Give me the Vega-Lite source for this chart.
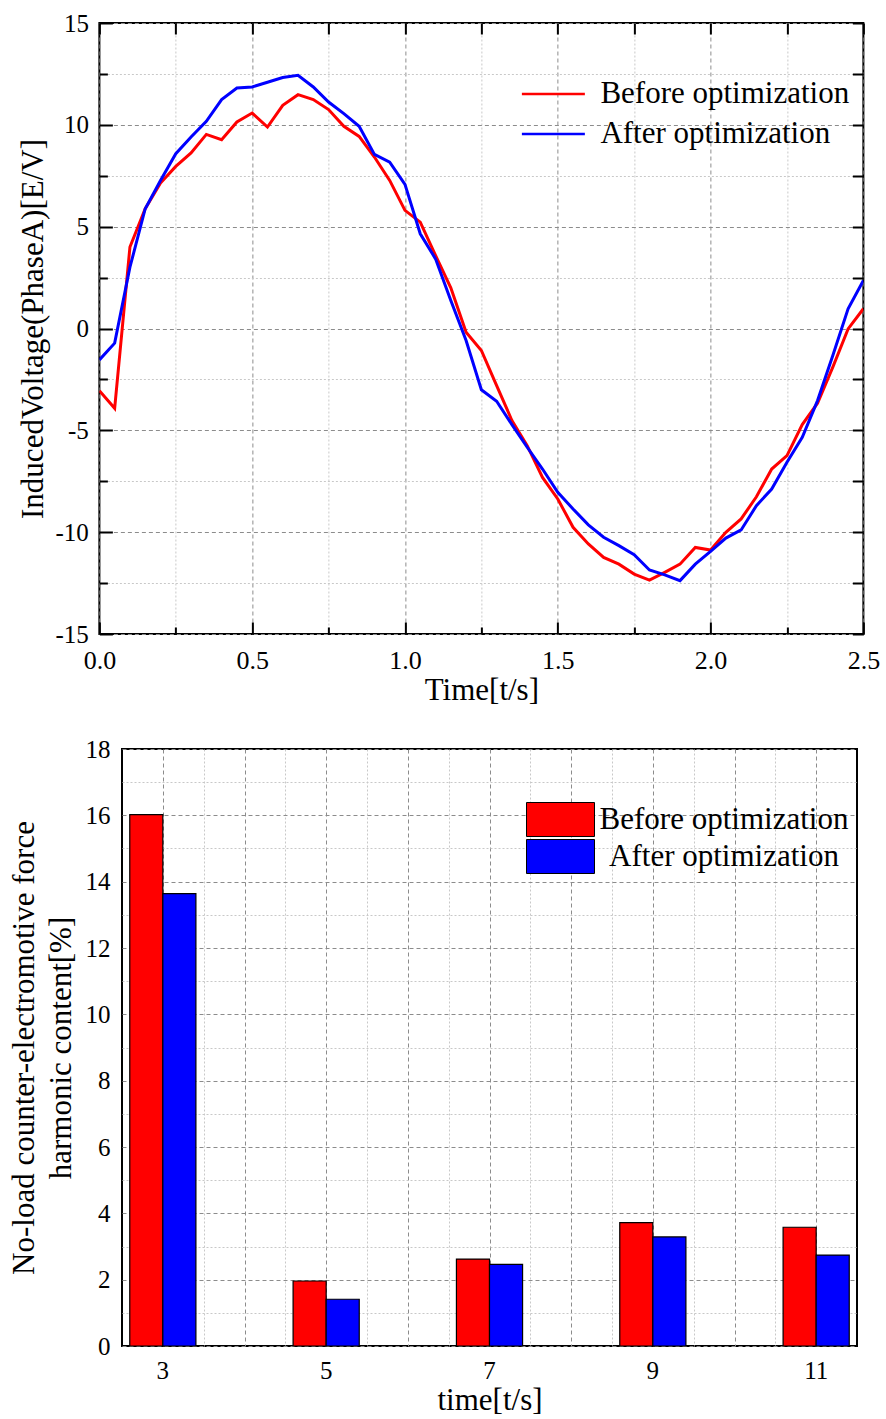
{
  "$schema": "https://vega.github.io/schema/vega-lite/v6.json",
  "padding": {"left": 7, "top": 10, "right": 5, "bottom": 5},
  "background": "white",
  "spacing": 30,
  "center": true,
  "resolve": {"scale": {"color": "independent"}, "legend": {"color": "independent"}},
  "config": {
    "view": {"stroke": "black", "strokeWidth": 2},
    "axis": {"labelFont": "Liberation Serif", "titleFont": "Liberation Serif", "labelColor": "black", "titleColor": "black", "titleFontWeight": "normal", "domain": false, "tickColor": "black", "tickWidth": 2},
    "legend": {"labelFont": "Liberation Serif", "labelColor": "black"}
  },
  "vconcat": [
    {
      "width": 764,
      "height": 611,
      "data": {"values": [
        {"t": 0, "Before optimization": -3.05, "After optimization": -1.54},
        {"t": 0.05, "Before optimization": -3.92, "After optimization": -0.72},
        {"t": 0.1, "Before optimization": 4.0, "After optimization": 3.01},
        {"t": 0.15, "Before optimization": 5.88, "After optimization": 5.88},
        {"t": 0.2, "Before optimization": 7.14, "After optimization": 7.27},
        {"t": 0.25, "Before optimization": 7.96, "After optimization": 8.58},
        {"t": 0.3, "Before optimization": 8.62, "After optimization": 9.4},
        {"t": 0.35, "Before optimization": 9.53, "After optimization": 10.17},
        {"t": 0.4, "Before optimization": 9.27, "After optimization": 11.24},
        {"t": 0.45, "Before optimization": 10.14, "After optimization": 11.81},
        {"t": 0.5, "Before optimization": 10.58, "After optimization": 11.86},
        {"t": 0.55, "Before optimization": 9.89, "After optimization": 12.09},
        {"t": 0.6, "Before optimization": 10.96, "After optimization": 12.32},
        {"t": 0.65, "Before optimization": 11.48, "After optimization": 12.43},
        {"t": 0.7, "Before optimization": 11.24, "After optimization": 11.86},
        {"t": 0.75, "Before optimization": 10.75, "After optimization": 11.12},
        {"t": 0.8, "Before optimization": 9.93, "After optimization": 10.55},
        {"t": 0.85, "Before optimization": 9.43, "After optimization": 9.93},
        {"t": 0.9, "Before optimization": 8.42, "After optimization": 8.55},
        {"t": 0.95, "Before optimization": 7.27, "After optimization": 8.17},
        {"t": 1.0, "Before optimization": 5.8, "After optimization": 7.08},
        {"t": 1.05, "Before optimization": 5.22, "After optimization": 4.65},
        {"t": 1.1, "Before optimization": 3.59, "After optimization": 3.42},
        {"t": 1.15, "Before optimization": 2.0, "After optimization": 1.38},
        {"t": 1.2, "Before optimization": -0.18, "After optimization": -0.59},
        {"t": 1.25, "Before optimization": -1.08, "After optimization": -3.01},
        {"t": 1.3, "Before optimization": -2.8, "After optimization": -3.57},
        {"t": 1.35, "Before optimization": -4.52, "After optimization": -4.72},
        {"t": 1.4, "Before optimization": -5.75, "After optimization": -5.83},
        {"t": 1.45, "Before optimization": -7.31, "After optimization": -6.9},
        {"t": 1.5, "Before optimization": -8.37, "After optimization": -8.04},
        {"t": 1.55, "Before optimization": -9.76, "After optimization": -8.86},
        {"t": 1.6, "Before optimization": -10.58, "After optimization": -9.64},
        {"t": 1.65, "Before optimization": -11.24, "After optimization": -10.25},
        {"t": 1.7, "Before optimization": -11.57, "After optimization": -10.66},
        {"t": 1.75, "Before optimization": -12.06, "After optimization": -11.11},
        {"t": 1.8, "Before optimization": -12.35, "After optimization": -11.86},
        {"t": 1.85, "Before optimization": -11.97, "After optimization": -12.1},
        {"t": 1.9, "Before optimization": -11.57, "After optimization": -12.38},
        {"t": 1.95, "Before optimization": -10.75, "After optimization": -11.57},
        {"t": 2.0, "Before optimization": -10.88, "After optimization": -10.94},
        {"t": 2.05, "Before optimization": -10.01, "After optimization": -10.29},
        {"t": 2.1, "Before optimization": -9.35, "After optimization": -9.89},
        {"t": 2.15, "Before optimization": -8.26, "After optimization": -8.7},
        {"t": 2.2, "Before optimization": -6.9, "After optimization": -7.88},
        {"t": 2.25, "Before optimization": -6.24, "After optimization": -6.57},
        {"t": 2.3, "Before optimization": -4.72, "After optimization": -5.34},
        {"t": 2.35, "Before optimization": -3.67, "After optimization": -3.54},
        {"t": 2.4, "Before optimization": -1.9, "After optimization": -1.33},
        {"t": 2.45, "Before optimization": -0.02, "After optimization": 0.97},
        {"t": 2.5, "Before optimization": 0.97, "After optimization": 2.36}
      ]},
      "transform": [{"fold": ["Before optimization", "After optimization"], "as": ["series", "v"]}],
      "layer": [
        {
          "mark": {"type": "line", "strokeWidth": 3, "clip": true},
          "encoding": {
            "x": {"field": "t", "type": "quantitative",
              "scale": {"domain": [0, 2.5], "nice": false, "zero": false},
              "axis": {"orient": "bottom", "title": "Time[t/s]", "titleFontSize": 31, "titlePadding": 2,
                "values": [0, 0.25, 0.5, 0.75, 1, 1.25, 1.5, 1.75, 2, 2.25, 2.5],
                "labelExpr": "datum.value % 0.5 === 0 ? format(datum.value, '.1f') : ''",
                "labelFontSize": 26, "labelPadding": 25, "labelFlush": false,
                "tickSize": {"condition": {"test": "datum.value % 0.5 === 0", "value": -12}, "value": -7},
                "grid": true,
                "gridColor": {"condition": {"test": "datum.value % 0.5 === 0", "value": "#8c8c8c"}, "value": "#c8c8c8"},
                "gridDash": {"condition": {"test": "datum.value % 0.5 === 0", "value": [4, 3]}, "value": [2, 2]},
                "gridWidth": 1}},
            "y": {"field": "v", "type": "quantitative",
              "scale": {"domain": [-15, 15], "nice": false, "zero": false},
              "axis": {"orient": "left", "title": "InducedVoltage(PhaseA)[E/V]", "titleFontSize": 31, "titlePadding": 6,
                "values": [-15, -12.5, -10, -7.5, -5, -2.5, 0, 2.5, 5, 7.5, 10, 12.5, 15],
                "labelExpr": "datum.value % 5 === 0 ? '' + datum.value : ''",
                "labelFontSize": 25, "labelPadding": 24, "labelFlush": false,
                "tickSize": {"condition": {"test": "datum.value % 5 === 0", "value": -13}, "value": -8},
                "grid": true,
                "gridColor": {"condition": {"test": "datum.value % 5 === 0", "value": "#8c8c8c"}, "value": "#c8c8c8"},
                "gridDash": {"condition": {"test": "datum.value % 5 === 0", "value": [4, 3]}, "value": [2, 2]},
                "gridWidth": 1}},
            "color": {"field": "series", "type": "nominal",
              "scale": {"domain": ["Before optimization", "After optimization"], "range": ["#ff0000", "#0000ff"]},
              "legend": {"orient": "none", "legendX": 437, "legendY": 54, "title": null, "padding": 0,
                "symbolType": "M-2,0H2", "symbolSize": 992, "symbolStrokeWidth": 2.5,
                "labelFontSize": 31, "labelOffset": 30, "rowPadding": 8, "labelLimit": 400}}
          }
        },
        {
          "mark": {"type": "point", "opacity": 0},
          "encoding": {
            "x": {"field": "t", "type": "quantitative",
              "axis": {"orient": "top", "title": null, "labels": false, "grid": false, "tickSize": -11,
                "values": [0, 0.25, 0.5, 0.75, 1, 1.25, 1.5, 1.75, 2, 2.25, 2.5]}},
            "y": {"field": "v", "type": "quantitative",
              "axis": {"orient": "right", "title": null, "labels": false, "grid": false, "tickSize": -11,
                "values": [-15, -12.5, -10, -7.5, -5, -2.5, 0, 2.5, 5, 7.5, 10, 12.5, 15]}}
          }
        }
      ],
      "resolve": {"axis": {"x": "independent", "y": "independent"}}
    },
    {
      "width": 735,
      "height": 597,
      "data": {"values": [
        {"h": 3, "series": "Before optimization", "v": 16.02},
        {"h": 3, "series": "After optimization", "v": 13.64},
        {"h": 5, "series": "Before optimization", "v": 1.96},
        {"h": 5, "series": "After optimization", "v": 1.41},
        {"h": 7, "series": "Before optimization", "v": 2.62},
        {"h": 7, "series": "After optimization", "v": 2.46},
        {"h": 9, "series": "Before optimization", "v": 3.72},
        {"h": 9, "series": "After optimization", "v": 3.29},
        {"h": 11, "series": "Before optimization", "v": 3.58},
        {"h": 11, "series": "After optimization", "v": 2.74}
      ]},
      "layer": [
        {
          "mark": {"type": "point", "opacity": 0},
          "encoding": {
            "x": {"field": "h", "type": "quantitative",
              "scale": {"domain": [2.5, 11.5], "nice": false, "zero": false},
              "axis": {"orient": "top", "title": null, "labels": false, "ticks": false,
                "values": [3, 3.5, 4, 4.5, 5, 5.5, 6, 6.5, 7, 7.5, 8, 8.5, 9, 9.5, 10, 10.5, 11],
                "grid": true,
                "gridColor": {"condition": {"test": "datum.value % 1 === 0", "value": "#8c8c8c"}, "value": "#c8c8c8"},
                "gridDash": {"condition": {"test": "datum.value % 1 === 0", "value": [4, 3]}, "value": [2, 2]},
                "gridWidth": 1}}
          }
        },
        {
          "mark": {"type": "bar", "stroke": "black", "strokeWidth": 1.2},
          "encoding": {
            "x": {"field": "h", "type": "ordinal",
              "scale": {"domain": [3, 4, 5, 6, 7, 8, 9, 10, 11], "paddingInner": 0.19, "paddingOuter": 0.095},
              "axis": {"orient": "bottom", "title": "time[t/s]", "titleFontSize": 31, "titlePadding": 2,
                "labelExpr": "datum.value % 2 === 1 ? datum.label : ''", "labelAngle": 0,
                "labelFontSize": 25, "labelPadding": 12, "ticks": false, "grid": false}},
            "xOffset": {"field": "series", "type": "nominal", "sort": ["Before optimization", "After optimization"]},
            "y": {"field": "v", "type": "quantitative",
              "scale": {"domain": [0, 18], "nice": false, "zero": true},
              "axis": {"orient": "left", "title": ["No-load counter-electromotive force", "harmonic content[%]"],
                "titleFontSize": 31, "titleLineHeight": 37, "titlePadding": 8,
                "values": [0, 1, 2, 3, 4, 5, 6, 7, 8, 9, 10, 11, 12, 13, 14, 15, 16, 17, 18],
                "labelExpr": "datum.value % 2 === 0 ? '' + datum.value : ''",
                "labelFontSize": 25, "labelPadding": 12, "ticks": false,
                "grid": true,
                "gridColor": {"condition": {"test": "datum.value % 2 === 0", "value": "#8c8c8c"}, "value": "#c8c8c8"},
                "gridDash": {"condition": {"test": "datum.value % 2 === 0", "value": [4, 3]}, "value": [2, 2]},
                "gridWidth": 1}},
            "color": {"field": "series", "type": "nominal",
              "scale": {"domain": ["Before optimization", "After optimization"], "range": ["#ff0000", "#0000ff"]},
              "legend": {"orient": "none", "legendX": 421, "legendY": 53, "title": null, "padding": 0,
                "symbolType": "M-2,-1H2V1H-2Z", "symbolSize": 1156, "symbolStrokeColor": "black", "symbolStrokeWidth": 1, "symbolOpacity": 1,
                "labelFontSize": 31, "labelOffset": 146, "labelAlign": "center", "rowPadding": -2, "labelLimit": 400}}
          }
        }
      ],
      "resolve": {"scale": {"x": "independent"}, "axis": {"x": "independent"}}
    }
  ]
}
